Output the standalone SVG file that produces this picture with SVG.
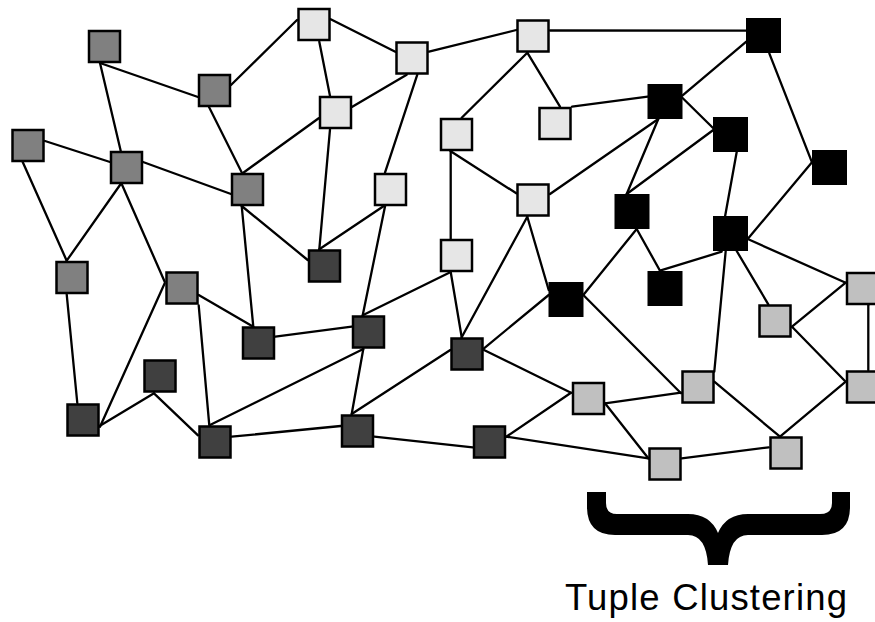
<svg xmlns="http://www.w3.org/2000/svg" width="875" height="622" viewBox="0 0 875 622">
<style>
#edges line{stroke:#000;stroke-width:2.3;stroke-linecap:round}
.n{stroke:#000;stroke-width:2.5}
.m{fill:#808080}.l{fill:#e6e6e6}.d{fill:#404040}.g{fill:#c0c0c0}.b{fill:#000}
text{font-family:"Liberation Sans",Arial,sans-serif;font-size:36.5px;fill:#000}
</style>
<rect width="875" height="622" fill="#fff"/>
<g id="edges">
<line x1="100" y1="63" x2="198" y2="97"/>
<line x1="100" y1="63" x2="120.7" y2="150.7"/>
<line x1="231" y1="85" x2="297" y2="20"/>
<line x1="209" y1="107" x2="242" y2="173"/>
<line x1="45" y1="141" x2="110" y2="162"/>
<line x1="22.7" y1="162" x2="66.7" y2="260.7"/>
<line x1="143" y1="162" x2="231" y2="194"/>
<line x1="120.7" y1="184" x2="66.7" y2="260.7"/>
<line x1="121.7" y1="184" x2="164.7" y2="281.7"/>
<line x1="243.3" y1="172.7" x2="318.7" y2="118.3"/>
<line x1="241.7" y1="206" x2="253.3" y2="326.7"/>
<line x1="241.7" y1="206" x2="307.7" y2="260"/>
<line x1="330.7" y1="19.3" x2="395.3" y2="51.7"/>
<line x1="319.3" y1="41.7" x2="330" y2="96"/>
<line x1="406.7" y1="74.7" x2="352.3" y2="106.7"/>
<line x1="429" y1="51.7" x2="516.3" y2="30"/>
<line x1="417.3" y1="74.7" x2="385" y2="172.7"/>
<line x1="330" y1="129.3" x2="319.3" y2="249.3"/>
<line x1="550" y1="30.5" x2="746.3" y2="30.7"/>
<line x1="527.3" y1="52.7" x2="461.7" y2="117.7"/>
<line x1="527.3" y1="52.7" x2="560" y2="106.7"/>
<line x1="572" y1="106.7" x2="647.7" y2="96.7"/>
<line x1="450.7" y1="151.3" x2="516.3" y2="193.3"/>
<line x1="450.7" y1="151.3" x2="450.7" y2="238.7"/>
<line x1="385.3" y1="205" x2="319.3" y2="249.3"/>
<line x1="385.3" y1="205" x2="362.7" y2="315.3"/>
<line x1="550" y1="194" x2="658.3" y2="119"/>
<line x1="527.3" y1="216.7" x2="461.7" y2="337.3"/>
<line x1="527.3" y1="216.7" x2="548.7" y2="290"/>
<line x1="746.3" y1="41.7" x2="682.3" y2="95.7"/>
<line x1="769.3" y1="53.3" x2="812" y2="162.3"/>
<line x1="682.3" y1="97.7" x2="713.3" y2="128.3"/>
<line x1="658.3" y1="119" x2="626.7" y2="194"/>
<line x1="713.3" y1="130" x2="626.7" y2="194"/>
<line x1="736.7" y1="152" x2="725" y2="216.7"/>
<line x1="812" y1="162.3" x2="748.3" y2="238.3"/>
<line x1="636.7" y1="229" x2="660" y2="270.7"/>
<line x1="636.7" y1="229" x2="583.3" y2="295"/>
<line x1="660" y1="270.7" x2="721.7" y2="251.7"/>
<line x1="583.3" y1="295" x2="681" y2="393.3"/>
<line x1="725.7" y1="251" x2="714.3" y2="371.7"/>
<line x1="736.7" y1="251" x2="768.3" y2="304.3"/>
<line x1="748.3" y1="239.3" x2="845.7" y2="282.7"/>
<line x1="845.7" y1="282.7" x2="792" y2="326.7"/>
<line x1="868.3" y1="305.3" x2="868.3" y2="370.3"/>
<line x1="792" y1="326.7" x2="845.7" y2="381.7"/>
<line x1="681" y1="392.7" x2="605" y2="403.3"/>
<line x1="714.3" y1="381.7" x2="780" y2="436.7"/>
<line x1="845.7" y1="381.7" x2="780" y2="436.7"/>
<line x1="681.7" y1="458.3" x2="768.7" y2="447.3"/>
<line x1="605" y1="403.3" x2="648.3" y2="458.3"/>
<line x1="506.3" y1="436.7" x2="648.3" y2="458.3"/>
<line x1="484" y1="350" x2="571" y2="392.7"/>
<line x1="506.3" y1="436.7" x2="571" y2="392.7"/>
<line x1="484" y1="348.3" x2="548.7" y2="295"/>
<line x1="450.7" y1="272" x2="461.7" y2="337.3"/>
<line x1="450.3" y1="350" x2="351.7" y2="414"/>
<line x1="450.7" y1="272" x2="362.7" y2="315.3"/>
<line x1="363.3" y1="349" x2="351.7" y2="414"/>
<line x1="275.3" y1="336.7" x2="351.7" y2="326.7"/>
<line x1="210" y1="425" x2="363.3" y2="349"/>
<line x1="231.7" y1="436.7" x2="340.7" y2="426"/>
<line x1="374.3" y1="436.7" x2="472.7" y2="447.3"/>
<line x1="198.7" y1="295" x2="253.3" y2="326.7"/>
<line x1="198.7" y1="305.3" x2="209.3" y2="425.3"/>
<line x1="164.7" y1="283.3" x2="100" y2="426.7"/>
<line x1="66.7" y1="294.3" x2="77.3" y2="403"/>
<line x1="154" y1="393.3" x2="98.3" y2="426.7"/>
<line x1="154" y1="393.3" x2="198" y2="435.3"/>
</g>
<g id="nA"><rect class="n m" x="89" y="31" width="31" height="31"/></g>
<g id="nB"><rect class="n m" x="199" y="75" width="31" height="31"/></g>
<g id="nC"><rect class="n m" x="12.5" y="130" width="31" height="31"/></g>
<g id="nD"><rect class="n m" x="111" y="152" width="31" height="31"/></g>
<g id="nE"><rect class="n m" x="232" y="174" width="31" height="31"/></g>
<g id="nF"><rect class="n l" x="298.5" y="9" width="31" height="31"/></g>
<g id="nG"><rect class="n l" x="396.5" y="42.5" width="31" height="31"/></g>
<g id="nH"><rect class="n l" x="320" y="97" width="31" height="31"/></g>
<g id="nI"><rect class="n l" x="517.5" y="20.5" width="31" height="31"/></g>
<g id="nJ"><rect class="n l" x="539.5" y="108" width="31" height="31"/></g>
<g id="nK"><rect class="n l" x="441" y="119" width="31" height="31"/></g>
<g id="nL"><rect class="n l" x="375" y="174" width="31" height="31"/></g>
<g id="nM"><rect class="n l" x="517.5" y="184.5" width="31" height="31"/></g>
<g id="nT"><rect class="n m" x="56.5" y="262" width="31" height="31"/></g>
<g id="nU"><rect class="n m" x="166.5" y="272.5" width="31" height="31"/></g>
<g id="nV"><rect class="n d" x="243" y="327.5" width="31" height="31"/></g>
<g id="nW"><rect class="n d" x="144.5" y="360.5" width="31" height="31"/></g>
<g id="nX"><rect class="n d" x="67.5" y="404.5" width="31" height="31"/></g>
<g id="nY"><rect class="n d" x="199.5" y="426.5" width="31" height="31"/></g>
<g id="nZ"><rect class="n d" x="309" y="250.5" width="31" height="31"/></g>
<g id="nAA"><rect class="n l" x="441" y="240" width="31" height="31"/></g>
<g id="nAC"><rect class="n d" x="353" y="316.5" width="31" height="31"/></g>
<g id="nAD"><rect class="n d" x="451.5" y="338.5" width="31" height="31"/></g>
<g id="nAE"><rect class="n d" x="342" y="415.5" width="31" height="31"/></g>
<g id="nAF"><rect class="n d" x="474" y="426.5" width="31" height="31"/></g>
<g id="nAG"><rect class="n g" x="573" y="383" width="31" height="31"/></g>
<g id="nAI"><rect class="n g" x="847" y="273" width="31" height="31"/></g>
<g id="nAJ"><rect class="n g" x="759.5" y="305.5" width="31" height="31"/></g>
<g id="nAK"><rect class="n g" x="682.5" y="371.5" width="31" height="31"/></g>
<g id="nAL"><rect class="n g" x="847" y="371.5" width="31" height="31"/></g>
<g id="nAM"><rect class="n g" x="649.5" y="448.5" width="31" height="31"/></g>
<g id="nAN"><rect class="n g" x="770.5" y="437.5" width="31" height="31"/></g>
<g id="nN"><rect class="b" x="746" y="18" width="35" height="35"/></g>
<g id="nO"><rect class="b" x="647.5" y="84" width="35" height="35"/></g>
<g id="nP"><rect class="b" x="713" y="117" width="35" height="35"/></g>
<g id="nQ"><rect class="b" x="812" y="150" width="35" height="35"/></g>
<g id="nR"><rect class="b" x="614.5" y="194" width="35" height="35"/></g>
<g id="nS"><rect class="b" x="713" y="216" width="35" height="35"/></g>
<g id="nAB"><rect class="b" x="548.5" y="282" width="35" height="35"/></g>
<g id="nAH"><rect class="b" x="647.5" y="271" width="35" height="35"/></g>
<g id="brace">
<path d="M587,492 L587,507 Q587,535 615,535 L688,535 Q706,535 708,565 L728,565 Q730,535 748,535 L822,535 Q850,535 850,507 L850,492 L832,492 L832,503 Q832,514 820,514 L748,514 Q726,514 718,533 Q710,514 688,514 L617,514 Q606,514 606,503 L606,492 Z" fill="#000"/>
</g>
<text x="565" y="610" textLength="282" lengthAdjust="spacing">Tuple Clustering</text>
</svg>
